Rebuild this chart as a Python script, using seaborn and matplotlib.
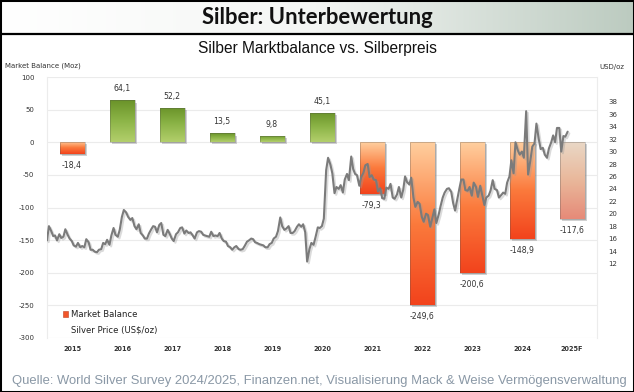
import matplotlib
matplotlib.use("Agg")
import matplotlib.pyplot as plt
import matplotlib.patheffects as pe
from matplotlib.colors import LinearSegmentedColormap
from matplotlib.patches import Rectangle, Patch
from matplotlib.lines import Line2D
import numpy as np
import pandas as pd
import seaborn as sns

# Market balance (Moz) per year
years = ["2015", "2016", "2017", "2018", "2019", "2020", "2021", "2022", "2023", "2024", "2025F"]
balance = [-18.4, 64.1, 52.2, 13.5, 9.8, 45.1, -79.3, -249.6, -200.6, -148.9, -117.6]

# Silver price (US$/oz), sampled on the 1st and 16th of each month
price_2015 = [15.7, 18.0, 17.2, 16.4, 16.5, 15.7, 16.7, 16.1, 16.3, 17.5, 16.6, 16.0,
              15.6, 14.9, 14.7, 15.3, 14.6, 14.8, 14.6, 15.9, 15.4, 14.2, 14.2, 13.9]
price_2016 = [13.8, 14.2, 14.3, 15.3, 15.1, 15.8, 15.0, 16.5, 17.7, 16.6, 16.3, 17.4,
              19.5, 20.6, 20.2, 19.5, 19.0, 19.3, 18.0, 17.5, 18.3, 16.9, 16.5, 16.0]
price_2017 = [16.0, 16.8, 17.5, 18.0, 17.9, 17.0, 18.2, 18.5, 16.6, 16.4, 17.4, 16.8,
              16.0, 15.6, 16.7, 17.0, 17.7, 17.8, 16.8, 17.3, 16.9, 17.0, 16.5, 16.0]
price_2018 = [17.0, 17.2, 17.1, 16.6, 16.5, 16.4, 16.3, 17.1, 16.4, 16.5, 16.4, 16.9,
              16.0, 15.6, 15.5, 14.8, 14.6, 14.2, 14.6, 14.8, 14.3, 14.2, 14.3, 14.8]
price_2019 = [15.5, 15.7, 16.0, 15.9, 15.4, 15.3, 15.1, 15.0, 14.9, 14.6, 14.6, 15.1,
              15.3, 16.0, 16.3, 17.2, 19.4, 18.0, 17.4, 17.6, 18.0, 16.9, 16.9, 17.2]
price_2020 = [17.9, 18.3, 17.9, 18.3, 17.0, 12.3, 14.3, 15.3, 15.0, 16.2, 17.8, 17.7,
              18.0, 19.2, 27.0, 29.0, 27.9, 26.5, 23.3, 24.3, 24.0, 24.6, 23.4, 25.5]
price_2021 = [26.4, 25.4, 29.2, 27.2, 26.4, 26.2, 24.5, 25.9, 26.6, 27.8, 28.0, 25.9,
              26.2, 25.5, 25.4, 23.6, 24.1, 22.5, 22.4, 24.2, 24.0, 24.8, 22.6, 22.4]
price_2022 = [23.1, 24.3, 22.6, 23.8, 26.0, 25.1, 24.7, 25.8, 22.6, 21.1, 21.9, 21.6,
              19.5, 18.7, 20.0, 19.8, 17.9, 19.2, 20.7, 18.5, 19.8, 21.2, 22.6, 23.4]
price_2023 = [24.0, 24.1, 23.5, 21.7, 20.5, 22.1, 24.0, 25.5, 25.5, 23.8, 23.7, 24.3,
              22.9, 25.0, 24.3, 22.7, 24.5, 23.0, 21.4, 22.6, 22.9, 23.7, 25.4, 24.0]
price_2024 = [23.8, 22.6, 23.0, 23.4, 23.2, 25.0, 26.0, 28.6, 26.5, 31.5, 30.2, 29.5,
              30.0, 29.0, 36.5, 26.3, 28.6, 30.8, 31.3, 34.5, 32.0, 30.4, 30.6, 29.5]
price_2025 = [29.0, 30.5, 31.5, 32.6, 31.5, 33.8, 33.8, 30.0, 32.5, 32.4, 33.2]

price = (price_2015 + price_2016 + price_2017 + price_2018 + price_2019 + price_2020
         + price_2021 + price_2022 + price_2023 + price_2024 + price_2025)
dates = pd.date_range("2015-01-01", periods=len(price), freq="SMS")
# year Y spans category slot Y-0.5 .. Y+0.5
pos = (dates.year - 2015) + (dates.dayofyear - 1) / 365.25 - 0.5

left_ticks = list(range(-300, 101, 50))
right_ticks = list(range(12, 39, 2))

sns.set_style("white")
plt.rcParams["font.family"] = ["DejaVu Sans"]

fig = plt.figure(figsize=(6.34, 3.92), dpi=100)
W, H = 634, 392

# title bar with gradient
tax = fig.add_axes([0, 1 - 33 / H, 1, 33 / H])
grad = np.linspace(0, 1, 256).reshape(1, -1)
tax.imshow(grad, extent=[0, 1, 0, 1], aspect="auto",
           cmap=LinearSegmentedColormap.from_list("t", ["#ffffff", "#f4f6f4", "#bccbc0"]))
tax.set_xlim(0, 1)
tax.set_ylim(0, 1)
tax.axis("off")
tax.text(0.5, 0.46, "Silber: Unterbewertung", ha="center", va="center",
         fontsize=15.8, fontweight="bold", family=["Lato", "DejaVu Sans"], color="#111111")
fig.add_artist(Line2D([0, 1], [1 - 33.5 / H] * 2, color="black", lw=1.6))
fig.add_artist(Rectangle((0, 0), 1, 1, fill=False, edgecolor="black", lw=2.2,
                         transform=fig.transFigure))

ax = fig.add_axes([47 / W, 1 - 338 / H, 550 / W, 261 / H])
df = pd.DataFrame({"year": years, "balance": balance})
sns.barplot(data=df, x="year", y="balance", ax=ax, width=0.5, color="white",
            saturation=1, zorder=2)

cmap_green = LinearSegmentedColormap.from_list("g", ["#b3cf6c", "#8db548", "#6a9329"])
cmap_red = LinearSegmentedColormap.from_list("r", ["#f2431c", "#fb7a3c", "#ffcf9f"])
cmap_fc = LinearSegmentedColormap.from_list("f", ["#e68a78", "#e9b79a", "#ead8c6"])

for i, patch in enumerate(ax.patches):
    v = balance[i]
    x0, w = patch.get_x(), patch.get_width()
    lo, hi = min(0, v), max(0, v)
    if years[i].endswith("F"):
        cm = cmap_fc
    elif v > 0:
        cm = cmap_green
    else:
        cm = cmap_red
    patch.set_facecolor("none")
    patch.set_edgecolor("none")
    patch.set_path_effects([pe.SimplePatchShadow(offset=(1.5, -1.5), shadow_rgbFace="#9a9a9a",
                                                 alpha=0.45), pe.Normal()])
    g = np.linspace(0, 1, 256).reshape(-1, 1)
    im = ax.imshow(g, extent=[x0, x0 + w, lo, hi], origin="lower", aspect="auto",
                   cmap=cm, zorder=2.1, interpolation="bilinear")
    im.set_clip_path(patch)
    ax.add_patch(Rectangle((x0, lo), w, hi - lo, fill=False, lw=0.6,
                           edgecolor=(0.3, 0.3, 0.3, 0.35), zorder=2.2))

labels = [f"{v:.1f}".replace(".", ",") for v in balance]
for i, v in enumerate(balance):
    ax.annotate(labels[i], (i, v), xytext=(0, 5 if v > 0 else -5), textcoords="offset points",
                ha="center", va="bottom" if v > 0 else "top", fontsize=5.6, color="#333333")

ax.set_xlim(-0.5, 10.5)
ax.set_ylim(-300, 100)
ax.set_yticks(left_ticks)
ax.set_yticklabels([str(t) for t in left_ticks])
ax.yaxis.grid(True, color="#ebebeb", lw=0.8, zorder=0)
ax.set_axisbelow(True)
ax.tick_params(axis="y", length=0, pad=9, labelsize=5.0, labelcolor="#333333")
ax.tick_params(axis="x", length=0, pad=5.5, labelsize=4.7, labelcolor="#333333")
for t in ax.get_xticklabels():
    t.set_fontweight("bold")
ax.set_xlabel("")
ax.set_ylabel("")
for s in ["top", "bottom"]:
    ax.spines[s].set_visible(False)
for s in ["left", "right"]:
    ax.spines[s].set_color("#ececec")
    ax.spines[s].set_linewidth(0.8)

ax2 = ax.twinx()
sns.lineplot(x=pos, y=price, ax=ax2, color="#7b7b7b", linewidth=1.5,
             path_effects=[pe.SimpleLineShadow(offset=(1.2, -1.2), shadow_color="#999999", alpha=0.35),
                           pe.Normal()])
ax2.set_ylim(0, 42)
ax2.set_yticks(right_ticks)
ax2.set_yticklabels([str(t) for t in right_ticks])
ax2.tick_params(axis="y", length=0, pad=8, labelsize=5.0, labelcolor="#333333")
for s in ax2.spines.values():
    s.set_visible(False)
ax.set_xlim(-0.5, 10.5)

handles = [Patch(facecolor="#f2562a", edgecolor="#c04020", lw=0.4), Line2D([], [], color="none")]
ax.legend(handles, ["Market Balance", "Silver Price (US$/oz)"], loc="lower left",
          bbox_to_anchor=(0.015, -0.015), frameon=False, fontsize=6.1, handlelength=0.6,
          handleheight=0.6, handletextpad=0.4, labelspacing=0.75, labelcolor="#222222")

fig.text(317 / W, 1 - 49 / H, "Silber Marktbalance vs. Silberpreis", ha="center", va="center",
         fontsize=11.2, family=["Liberation Sans", "DejaVu Sans"], color="#111111")
fig.text(5 / W, 1 - 66 / H, "Market Balance (Moz)", ha="left", va="center", fontsize=5.0,
         color="#333333")
fig.text(599 / W, 1 - 67 / H, "USD/oz", ha="left", va="center", fontsize=5.0, color="#333333")
fig.text(12 / W, 1 - 381 / H,
         "Quelle: World Silver Survey 2024/2025, Finanzen.net, Visualisierung Mack & Weise Vermögensverwaltung",
         ha="left", va="center", fontsize=9.4, family=["Liberation Sans", "DejaVu Sans"],
         color="#8a98a6")

fig.savefig("out.png", dpi=100)
